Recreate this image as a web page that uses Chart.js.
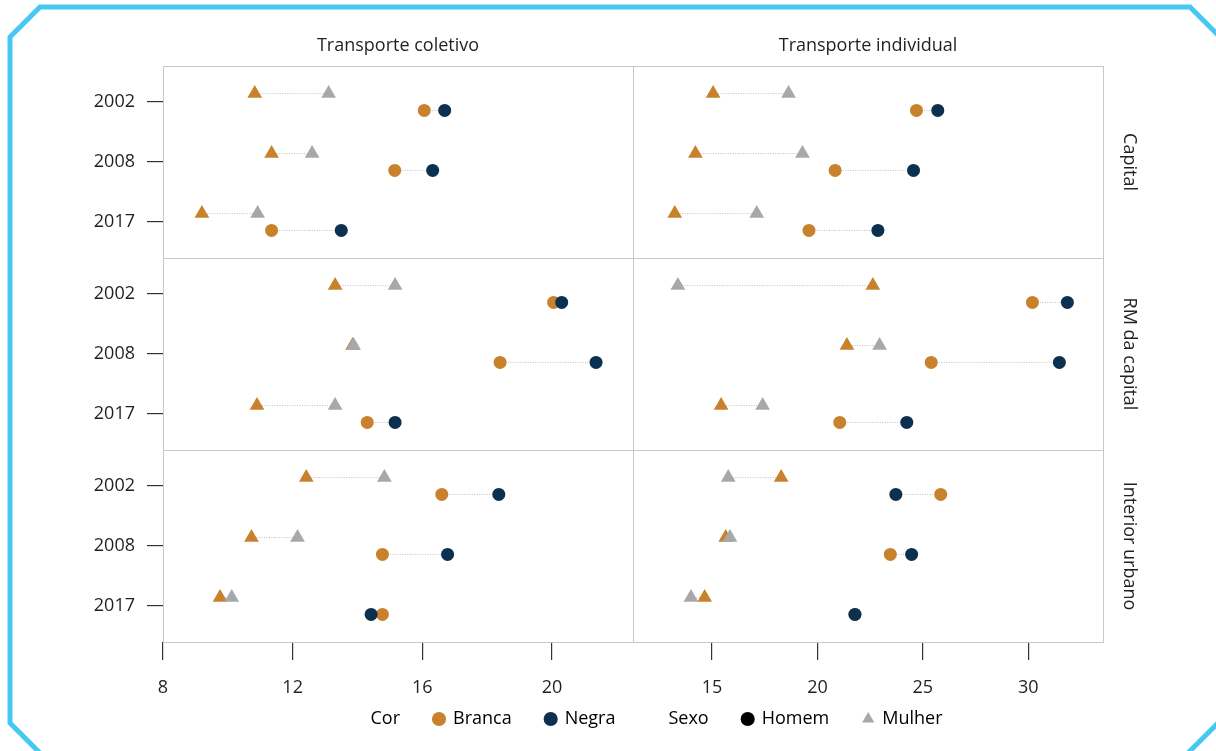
<!DOCTYPE html>
<html lang="pt">
<head>
    <meta charset="UTF-8">
    <title>Tempo de deslocamento</title>
    <style>
        html, body { margin: 0; padding: 0; background: #fff; }
    </style>
</head>
<body>
    <canvas id="myChart" width="1216" height="751"></canvas>

    <script src="https://cdn.jsdelivr.net/npm/chart.js"></script>

    <script>
        // categorias
        const years = ['2002', '2008', '2017'];
        const regions = ['Capital', 'RM da capital', 'Interior urbano'];
        const modes = ['Transporte coletivo', 'Transporte individual'];
        const coletivoTicks = [8, 12, 16, 20];
        const individualTicks = [15, 20, 25, 30];

        // ordem: Capital 2002, 2008, 2017 | RM 2002, 2008, 2017 | Interior 2002, 2008, 2017
        const colHomem  = [10.83, 11.35, 9.20, 13.31, 13.85, 10.90, 12.42, 10.73, 9.76];
        const colMulher = [13.11, 12.60, 10.92, 15.16, 13.88, 13.31, 14.83, 12.15, 10.12];
        const colBranca = [16.06, 15.15, 11.35, 20.05, 18.40, 14.30, 16.60, 14.77, 14.77];
        const colNegra  = [16.69, 16.32, 13.50, 20.30, 21.36, 15.16, 18.36, 16.78, 14.42];

        const indHomem  = [15.05, 14.21, 13.23, 22.63, 21.40, 15.43, 18.28, 15.65, 14.65];
        const indMulher = [18.63, 19.29, 17.12, 13.38, 22.95, 17.40, 15.77, 15.85, 14.00];
        const indBranca = [24.70, 20.84, 19.60, 30.20, 25.40, 21.06, 25.85, 23.46, 21.78];
        const indNegra  = [25.71, 24.56, 22.87, 31.86, 31.48, 24.24, 23.72, 24.47, 21.78];

        const orange = '#c8822c';
        const navy = '#0c3050';
        const gray = '#a7a8ac';
        const dotColor = '#bdbdbd';
        const textColor = '#231f20';

        Chart.defaults.font.family = "'Open Sans', sans-serif";
        Chart.defaults.font.size = 18;
        Chart.defaults.color = textColor;

        const xIds = ['xCol', 'xInd'];
        const yIds = ['yCap', 'yRM', 'yInt'];
        const series = [
            [colHomem, colMulher, colBranca, colNegra],
            [indHomem, indMulher, indBranca, indNegra]
        ];
        const shift = 0.14;

        let datasets = [];
        for (let c = 0; c < 2; c++) {
            const [homem, mulher, branca, negra] = series[c];
            for (let r = 0; r < 3; r++) {
                const ids = { xAxisID: xIds[c], yAxisID: yIds[r] };
                let triLine = [], circLine = [];
                let tH = [], tM = [], cB = [], cN = [];
                years.forEach((y, i) => {
                    const k = r * 3 + i;
                    triLine.push({x: homem[k], y: i - shift}, {x: mulher[k], y: i - shift}, {x: null, y: null});
                    circLine.push({x: branca[k], y: i + shift}, {x: negra[k], y: i + shift}, {x: null, y: null});
                    tH.push({x: homem[k], y: i - shift});
                    tM.push({x: mulher[k], y: i - shift});
                    cB.push({x: branca[k], y: i + shift});
                    cN.push({x: negra[k], y: i + shift});
                });
                const line = { showLine: true, borderColor: dotColor, borderWidth: 1, borderDash: [1, 1.5],
                               pointRadius: 0, spanGaps: false, order: 10 };
                datasets.push({ ...ids, ...line, data: triLine });
                datasets.push({ ...ids, ...line, data: circLine });
                datasets.push({ ...ids, data: tH, pointStyle: 'triangle', pointRadius: 8.5,
                                backgroundColor: orange, borderWidth: 0, order: 4 });
                datasets.push({ ...ids, data: tM, pointStyle: 'triangle', pointRadius: 8.5,
                                backgroundColor: gray, borderWidth: 0, order: 3 });
                datasets.push({ ...ids, data: cB, pointStyle: 'circle', pointRadius: 6.5,
                                backgroundColor: orange, borderWidth: 0, order: 2 });
                datasets.push({ ...ids, data: cN, pointStyle: 'circle', pointRadius: 6.5,
                                backgroundColor: navy, borderWidth: 0, order: 1 });
            }
        }

        const xRange = [[8, 22.5], [11.25, 33.55]];
        const xTicks = [coletivoTicks, individualTicks];

        let scales = {};
        xIds.forEach((id, c) => {
            scales[id] = {
                type: 'linear', position: 'bottom', stack: 'cols', weight: c + 1,
                min: xRange[c][0], max: xRange[c][1],
                afterBuildTicks: s => { s.ticks = xTicks[c].map(v => ({value: v})); },
                ticks: { padding: 17, maxRotation: 0, autoSkip: false },
                grid: { drawOnChartArea: false, tickLength: 18, color: '#333', lineWidth: 1.2 },
                border: { display: false },
                afterFit: s => { s.height = 60; }
            };
            // faixa de título no topo
            scales[id + 'T'] = {
                type: 'linear', position: 'top', stack: 'strips', weight: 2 - c, display: true,
                ticks: { display: false }, grid: { display: false }, border: { display: false },
                title: { display: true, text: modes[c], padding: { top: 35 } },
                afterFit: s => { s.height = 66; }
            };
        });
        yIds.forEach((id, r) => {
            scales[id] = {
                type: 'linear', position: 'left', stack: 'rows', weight: 3 - r, reverse: true,
                min: -0.6, max: 2.6,
                afterBuildTicks: s => { s.ticks = years.map((y, i) => ({value: i})); },
                ticks: { callback: v => years[v], padding: 12, autoSkip: false },
                grid: { drawOnChartArea: false, tickLength: 16, color: '#333', lineWidth: 1.2 },
                border: { display: false },
                afterFit: s => { s.width = 163; }
            };
            // faixa de título à direita
            scales[id + 'R'] = {
                type: 'linear', position: 'right', stack: 'stripsR', weight: r + 1, display: true,
                ticks: { display: false }, grid: { display: false }, border: { display: false },
                title: { display: true, text: regions[r], padding: { top: 76 } },
                afterFit: s => { s.width = 113; }
            };
        });

        const panelPlugin = {
            id: 'panels',
            beforeDatasetsDraw(chart) {
                const ctx = chart.ctx;
                ctx.save();
                ctx.strokeStyle = '#c8c8c8';
                ctx.lineWidth = 1;
                xIds.forEach(xi => yIds.forEach(yi => {
                    const x = chart.scales[xi], y = chart.scales[yi];
                    ctx.strokeRect(Math.round(x.left) + 0.5, Math.round(y.top) + 0.5,
                                   Math.round(x.right - x.left), Math.round(y.bottom - y.top));
                }));
                ctx.restore();
            }
        };

        // moldura azul com cantos chanfrados
        const framePlugin = {
            id: 'frame',
            beforeDraw(chart) {
                const ctx = chart.ctx;
                ctx.save();
                ctx.strokeStyle = '#45c8f3';
                ctx.lineWidth = 5;
                ctx.beginPath();
                ctx.moveTo(1230, 47);
                ctx.lineTo(1190, 7);
                ctx.lineTo(40, 7);
                ctx.lineTo(10, 37);
                ctx.lineTo(10, 723);
                ctx.lineTo(40, 753);
                ctx.stroke();
                ctx.beginPath();
                ctx.moveTo(1188, 753);
                ctx.lineTo(1230, 711);
                ctx.stroke();
                ctx.restore();
            }
        };

        // sobe a legenda para ficar logo abaixo dos rótulos do eixo
        const legendShift = {
            id: 'legendShift',
            afterLayout(chart) {
                const lg = chart.legend;
                if (lg) {
                    lg.top -= 26; lg.bottom -= 26;
                    lg.left += 14; lg.right += 14;
                }
            }
        };

        const legendItems = [
            { text: 'Cor', fillStyle: 'rgba(0,0,0,0)', strokeStyle: 'rgba(0,0,0,0)', pointStyle: 'circle' },
            { text: 'Branca', fillStyle: orange, strokeStyle: orange, pointStyle: 'circle' },
            { text: 'Negra', fillStyle: navy, strokeStyle: navy, pointStyle: 'circle' },
            { text: 'Sexo', fillStyle: 'rgba(0,0,0,0)', strokeStyle: 'rgba(0,0,0,0)', pointStyle: 'circle' },
            { text: 'Homem', fillStyle: '#000', strokeStyle: '#000', pointStyle: 'circle' },
            { text: 'Mulher', fillStyle: gray, strokeStyle: gray, pointStyle: 'triangle' }
        ];

        const ctx = document.getElementById('myChart');

        let chart = new Chart(ctx, {
            type: 'scatter',
            data: { datasets: datasets },
            options: {
                responsive: false,
                animation: false,
                events: [],
                layout: { padding: { left: 0, right: 0, top: 0, bottom: -13 } },
                scales: scales,
                plugins: {
                    tooltip: { enabled: false },
                    legend: {
                        position: 'bottom',
                        fullSize: false,
                        labels: {
                            usePointStyle: true,
                            boxWidth: 10,
                            boxHeight: 10,
                            padding: 34,
                            color: textColor,
                            generateLabels: () => legendItems.map(it => ({ ...it, lineWidth: 0, hidden: false }))
                        }
                    }
                }
            },
            plugins: [framePlugin, panelPlugin, legendShift]
        });
    </script>
</body>
</html>
